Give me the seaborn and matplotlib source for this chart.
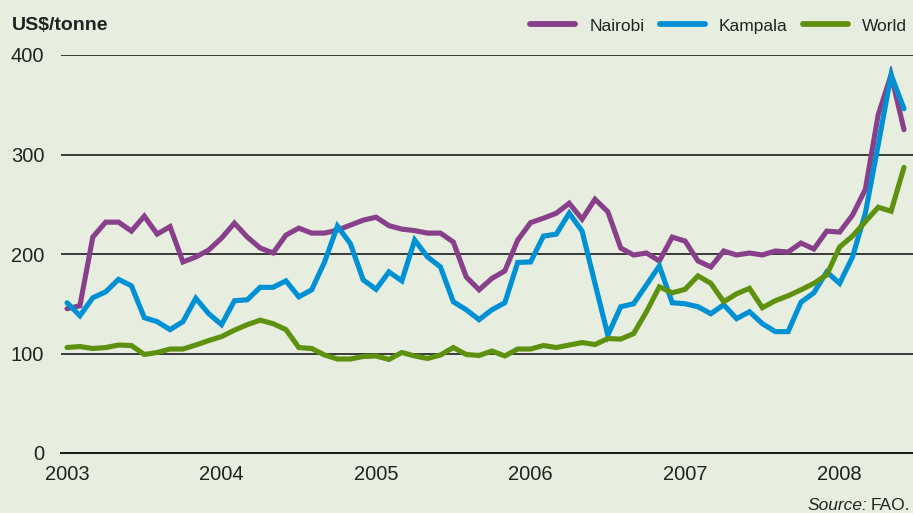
import numpy as np
import pandas as pd
import matplotlib
matplotlib.use("Agg")
import matplotlib.pyplot as plt
import seaborn as sns

# Monthly prices, January 2003 to June 2008 (US$/tonne)
months = pd.date_range("2003-01-01", "2008-06-01", freq="MS")

nairobi = [145, 148, 217, 232, 232, 223, 238, 220, 227.5, 192,
           197, 204, 216, 231, 217, 206, 201, 219, 226, 221,
           221, 224, 229, 234, 237, 228.5, 225, 223.5, 221, 221,
           212, 177, 164, 175.5, 183, 214, 231.5, 236, 241, 251,
           235, 255, 242.5, 206, 199, 201, 193, 217, 213, 193,
           187, 203, 199, 201, 199, 203, 202, 211, 205, 223,
           222, 239, 265, 340, 380, 325]

kampala = [151, 138, 156, 162, 174.5, 168, 136, 132, 124, 132,
           155.5, 140, 129, 153, 154, 166.5, 166.5, 173, 157, 164,
           192, 228, 210.5, 174, 164.5, 182, 173, 214, 197, 187,
           152, 144, 134, 144, 151, 191.5, 192, 218, 220, 241,
           223, 170.5, 118.5, 147, 150, 169, 188, 151, 150, 147,
           140, 149, 135, 142, 130, 122, 122, 151.5, 161, 182,
           170.5, 197, 241, 310, 380, 346]

world = [106, 107, 105, 106, 108.5, 108, 99, 101, 104.5, 104.5,
         108.5, 113, 117, 123.5, 129, 133.5, 130, 124, 106, 105,
         98.5, 94.5, 94.5, 97, 97.5, 94, 101, 97.5, 95, 98.5,
         106, 99, 98, 102.5, 97.5, 104.5, 104.5, 108, 106, 108.5,
         111, 109, 115, 114.5, 120, 142, 167, 161, 164.5, 178,
         170.5, 152, 160, 165.5, 146, 153, 158, 164, 170.5, 179,
         207, 218, 232.5, 247, 243, 287]

series_names = ["Nairobi", "Kampala", "World"]
palette = {"Nairobi": "#88408B", "Kampala": "#0091D5", "World": "#5F9111"}
year_ticks = [2003, 2004, 2005, 2006, 2007, 2008]
y_ticks = [0, 100, 200, 300, 400]

# Decimal-year position for each month
t = months.year + (months.month - 1) / 12.0

df = pd.DataFrame({
    "t": np.tile(t, 3),
    "price": nairobi + kampala + world,
    "market": np.repeat(series_names, len(months)),
})

bg = "#E8EEDF"
ink = "#222222"
sns.set_theme(style="white")
plt.rcParams["font.family"] = ["Liberation Sans", "DejaVu Sans"]

fig = plt.figure(figsize=(9.13, 5.13), dpi=100, facecolor=bg)
ax = fig.add_axes([61 / 913, 1 - 453 / 513, 1 - 61 / 913, (453 - 55) / 513])
ax.set_facecolor(bg)

# Horizontal gridlines behind the data
for v in y_ticks[1:]:
    ax.axhline(v, color="#3a3a3a", lw=1.4, zorder=1)

sns.lineplot(data=df, x="t", y="price", hue="market", hue_order=series_names,
             palette=palette, lw=3.7, ax=ax, legend=False, zorder=3,
             solid_capstyle="round", solid_joinstyle="miter")

ax.set_xlim(2003 - 0.47 / 12, 2003 + 65.7 / 12)
ax.set_ylim(0, 400)

for s in ["top", "right", "left"]:
    ax.spines[s].set_visible(False)
ax.spines["bottom"].set_color("#1a1a1a")
ax.spines["bottom"].set_linewidth(1.4)
ax.spines["bottom"].set_zorder(4)

ax.set_xticks(year_ticks)
ax.set_xticklabels([str(y) for y in year_ticks])
ax.set_yticks(y_ticks)
ax.set_yticklabels([str(v) for v in y_ticks])
ax.tick_params(axis="x", direction="in", length=7, width=0.9, color="#1a1a1a",
               pad=9, labelsize=14.5, labelcolor=ink)
ax.tick_params(axis="y", length=0, pad=12, labelsize=14.5, labelcolor=ink)
ax.set_xlabel("")
ax.set_ylabel("")

fig.text(12 / 913, 1 - 26 / 513, "US$/tonne", fontsize=14, fontweight="bold",
         color=ink, va="center", ha="left")

handles = [plt.Line2D([], [], color=palette[n], lw=4.2, solid_capstyle="round")
           for n in series_names]
fig.legend(handles, series_names, loc="center right",
           bbox_to_anchor=(1 + 10 / 913, 1 - 26 / 513), ncol=3, frameon=False,
           fontsize=12.5, handlelength=2.6, handletextpad=0.8, columnspacing=0.9,
           labelcolor=ink)

src = fig.text(1 - 3 / 913, 1 - 505 / 513, "FAO.", fontsize=12.5, color=ink,
               ha="right", va="center")
fig.canvas.draw()
bb = src.get_window_extent()
fig.text(bb.x0 - 3, bb.y0 + bb.height / 2, "Source:", fontsize=12.5,
         fontstyle="italic", color=ink, ha="right", va="center",
         transform=None)

fig.savefig("out.png", dpi=100, facecolor=bg)
